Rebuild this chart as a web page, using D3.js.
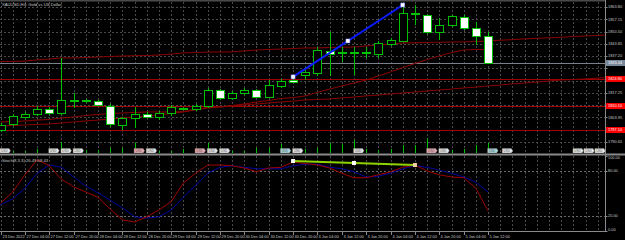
<!DOCTYPE html>
<html><head><meta charset="utf-8">
<script src="https://cdn.jsdelivr.net/npm/d3@7"></script>
<style>
html,body{margin:0;padding:0;background:#000;}
svg{display:block;font-family:"Liberation Sans",Arial,sans-serif;}
</style></head><body>
<svg id="chart" width="625" height="240"></svg>
<script>
// --- data (XAUUSD H4) ---
const opens  = [1797.1,1800.4,1804.2,1805.8,1808.5,1806.3,1812.8,1813.4,1812.8,1810.1,1799.8,1803.6,1805.8,1804.2,1806.3,1809.0,1808.5,1810.1,1818.8,1814.5,1817.2,1818.8,1815.0,1821.0,1824.0,1826.9,1828.0,1840.0,1839.1,1839.1,1839.1,1838.3,1843.7,1845.4,1859.7,1859.5,1850.3,1854.0,1858.4,1852.4,1848.1];
const highs  = [1800.9,1805.8,1806.9,1810.1,1809.6,1836.2,1817.2,1813.9,1813.4,1811.2,1804.2,1809.6,1806.9,1807.4,1810.7,1809.6,1811.2,1819.9,1819.3,1818.3,1819.9,1819.3,1824.2,1824.8,1825.9,1831.3,1842.1,1850.3,1842.1,1842.1,1842.1,1845.4,1847.0,1864.9,1864.9,1860.0,1857.8,1859.5,1859.5,1855.7,1850.3];
const lows   = [1796.0,1799.3,1803.1,1804.7,1805.3,1805.3,1809.0,1811.8,1810.1,1798.7,1797.1,1798.2,1803.6,1802.5,1804.7,1808.0,1807.4,1809.0,1813.4,1813.4,1816.1,1814.5,1814.5,1819.9,1822.6,1824.2,1826.4,1826.4,1834.0,1826.9,1836.2,1836.2,1842.7,1844.8,1854.0,1849.2,1845.9,1853.0,1851.3,1843.2,1832.9];
const closes = [1799.8,1804.7,1805.8,1808.5,1806.3,1813.4,1813.6,1812.6,1810.7,1800.4,1803.6,1805.8,1804.2,1806.3,1809.6,1808.2,1810.1,1818.8,1814.5,1817.2,1818.8,1815.0,1821.5,1823.7,1823.1,1828.6,1840.5,1838.3,1839.6,1839.6,1839.6,1844.3,1845.9,1860.6,1860.3,1850.3,1854.0,1858.9,1852.4,1848.1,1833.4];
const volumes = [7400,5100,4900,10200,7300,27600,9800,7600,7200,12700,12300,25100,7700,5200,4800,10300,7400,24800,7600,5000,5300,12400,12800,22600,7300,9900,12600,25300,22400,32700,10100,7500,9700,20200,19800,37400,7400,7700,10200,19700,25200];

// moving averages (A and C run past the last bar, B stops at it)
const maA = [1834.2,1834.3,1834.5,1835.1,1835.6,1836.2,1836.2,1836.4,1836.7,1837.0,1837.2,1837.4,1837.5,1837.8,1838.3,1838.9,1839.1,1839.4,1839.4,1839.5,1840.0,1840.5,1840.8,1841.0,1841.3,1841.6,1841.6,1841.9,1842.0,1842.1,1842.7,1843.2,1843.7,1844.3,1844.4,1844.6,1844.7,1844.8,1844.9,1845.1,1845.4,1845.8,1846.1,1846.5,1846.8,1847.1,1847.4,1847.8,1848.1,1848.4,1848.7];
const maB = [1801.5,1801.7,1802.0,1802.5,1802.8,1803.6,1804.2,1805.0,1805.5,1806.1,1806.3,1806.6,1806.9,1806.9,1806.9,1807.1,1808.5,1809.3,1809.6,1810.4,1811.2,1812.3,1813.1,1814.2,1814.7,1815.6,1817.5,1819.3,1821.0,1822.6,1824.2,1826.4,1828.6,1831.0,1833.2,1835.3,1837.2,1839.1,1840.5,1840.8,1840.5];
const maC = [1799.3,1799.6,1799.8,1800.1,1800.4,1800.9,1801.5,1802.0,1802.5,1803.1,1803.6,1804.2,1804.7,1805.3,1806.1,1806.9,1808.0,1809.0,1809.6,1810.1,1810.7,1811.2,1811.8,1812.3,1812.8,1813.4,1813.7,1813.9,1814.5,1815.0,1815.6,1816.1,1816.6,1817.2,1817.7,1818.3,1818.8,1819.3,1819.9,1820.4,1821.0,1821.5,1822.1,1822.6,1823.1,1823.7,1824.2,1824.5,1824.8,1825.3,1825.6];

const levels = [1824.80, 1810.10, 1797.10];
const bidPrice = 1833.44;
const priceTicks = [1863.80,1857.15,1850.50,1843.85,1837.20,1830.55,1823.90,1817.25,1810.60,1803.95,1797.30,1790.65];

// trendline on price: bar index / price
const trendIdx = [24, 33];
const trendPrice = [1825.9, 1864.9];

// stochastic
const stochK = [37,52,75,95,87,69,59,52,45,29,15,12,19,28,39,64,77,88,88,87,84,79,84,85,92,90,88,84,77,71,71,75,79,85,88,80,75,72,71,57,26.49];
const stochD = [35,43,57,77,88,85,72,60,51,41,31,19,17,19,28,45,61,77,85,87,85,83,83,83,87,89,89,85,83,79,72,73,77,83,87,85,81,77,72,65,52];
const stochLevels = [80, 20];
const stochTicks = [100, 80, 20, 0];
const stochTrendIdx = [24, 34];
const stochTrendVal = [93.3, 88.0];

const timeLabels = ["23 Dec 2022","27 Dec 04:00","27 Dec 12:00","27 Dec 20:00","28 Dec 04:00","28 Dec 12:00","28 Dec 20:00","29 Dec 04:00","29 Dec 12:00","29 Dec 20:00","30 Dec 04:00","30 Dec 12:00","30 Dec 20:00","3 Jan 04:00","3 Jan 12:00","3 Jan 20:00","4 Jan 04:00","4 Jan 12:00","4 Jan 20:00","5 Jan 04:00","5 Jan 12:00"];

// calendar events along the bottom of the price pane
const eventIdx  = [0,4,5,6,11,12,16,17,18,23,24,29,35,36,40,41.2,47,47.9,48.8];
const eventKind = ["w","w","w","w","p","w","p","w","w","t","w","w","p","w","t","w","w","w","w"];

// --- layout ---
const W = 625, H = 240;
const plotR = 605;
const mainTop = 2, mainBot = 153;
const subTop = 156, subBot = 231;

const svg = d3.select('#chart');
svg.append('rect').attr('width', W).attr('height', H).attr('fill', '#000');

const x = d3.scaleLinear().domain([0, 49]).range([0.5, 597.81]);
const y = d3.scaleLinear().domain([1784.64, 1866.52]).range([mainBot, mainTop]);
const yS = d3.scaleLinear().domain([0, 100]).range([subBot, subTop]);
const yV = d3.scaleLinear().domain([0, 40000]).range([mainBot, mainBot - 16]);

const gridCol = '#4a4a4a';
const green = '#00c000';
const fontSm = 3.9;

// clip to plot area
const defs = svg.append('defs');
defs.append('clipPath').attr('id', 'clipMain').append('rect')
	.attr('x', 0).attr('y', mainTop).attr('width', plotR).attr('height', mainBot - mainTop);
defs.append('clipPath').attr('id', 'clipSub').append('rect')
	.attr('x', 0).attr('y', subTop).attr('width', plotR).attr('height', subBot - subTop);

const gridIdx = d3.range(0, 50);

// grid main
const gm = svg.append('g').attr('shape-rendering', 'crispEdges');
gm.selectAll('line.v').data(gridIdx).join('line')
	.attr('x1', d => Math.round(x(d)) + 0.5).attr('x2', d => Math.round(x(d)) + 0.5)
	.attr('y1', mainTop).attr('y2', mainBot)
	.attr('stroke', gridCol).attr('stroke-dasharray', '2,2');
gm.selectAll('line.h').data(priceTicks).join('line')
	.attr('x1', 0).attr('x2', plotR)
	.attr('y1', d => Math.round(y(d)) + 0.5).attr('y2', d => Math.round(y(d)) + 0.5)
	.attr('stroke', gridCol).attr('stroke-dasharray', '2,2');

// grid sub
const gs = svg.append('g').attr('shape-rendering', 'crispEdges');
gs.selectAll('line.v').data(gridIdx).join('line')
	.attr('x1', d => Math.round(x(d)) + 0.5).attr('x2', d => Math.round(x(d)) + 0.5)
	.attr('y1', subTop).attr('y2', subBot)
	.attr('stroke', gridCol).attr('stroke-dasharray', '2,2');
gs.selectAll('line.h').data(stochLevels).join('line')
	.attr('x1', 0).attr('x2', plotR)
	.attr('y1', d => Math.round(yS(d)) + 0.5).attr('y2', d => Math.round(yS(d)) + 0.5)
	.attr('stroke', '#6a6a6a').attr('stroke-dasharray', '2,2');

const main = svg.append('g').attr('clip-path', 'url(#clipMain)');

// horizontal levels
main.selectAll('line.lvl').data(levels).join('line')
	.attr('x1', 0).attr('x2', plotR)
	.attr('y1', d => Math.round(y(d)) + 0.5).attr('y2', d => Math.round(y(d)) + 0.5)
	.attr('stroke', '#a00000').attr('shape-rendering', 'crispEdges');

// bid line
main.append('line')
	.attr('x1', 0).attr('x2', plotR)
	.attr('y1', Math.round(y(bidPrice)) + 0.5).attr('y2', Math.round(y(bidPrice)) + 0.5)
	.attr('stroke', '#7a8088').attr('shape-rendering', 'crispEdges');

// moving averages
const maLine = d3.line().x((d, i) => x(i)).y(d => y(d));
[maA, maB, maC].forEach(arr => {
	main.append('path').datum(arr).attr('d', maLine)
		.attr('fill', 'none').attr('stroke', '#8c0000').attr('stroke-width', 1);
});

// volumes
main.selectAll('line.vol').data(volumes).join('line')
	.attr('x1', (d, i) => Math.round(x(i)) + 0.5).attr('x2', (d, i) => Math.round(x(i)) + 0.5)
	.attr('y1', yV(0)).attr('y2', d => yV(d))
	.attr('stroke', green).attr('shape-rendering', 'crispEdges');

// candles
const bars = opens.map((o, i) => ({ i, o, h: highs[i], l: lows[i], c: closes[i] }));
const cg = main.append('g').attr('shape-rendering', 'crispEdges');
cg.selectAll('line.wick').data(bars).join('line')
	.attr('x1', d => Math.round(x(d.i)) + 0.5).attr('x2', d => Math.round(x(d.i)) + 0.5)
	.attr('y1', d => y(d.h)).attr('y2', d => y(d.l))
	.attr('stroke', green);
cg.selectAll('rect.body').data(bars).join('rect')
	.attr('x', d => Math.round(x(d.i)) - 3.5)
	.attr('width', 8)
	.attr('y', d => Math.round(y(Math.max(d.o, d.c))) + 0.5)
	.attr('height', d => Math.max(1, Math.round(y(Math.min(d.o, d.c)) - y(Math.max(d.o, d.c)))))
	.attr('fill', d => d.c >= d.o ? '#000' : '#fff')
	.attr('stroke', green);

// trendline
const tl = trendIdx.map((d, k) => ({ i: d, p: trendPrice[k] }));
const tlMid = { i: (trendIdx[0] + trendIdx[1]) / 2, p: (trendPrice[0] + trendPrice[1]) / 2 };
main.append('line')
	.attr('x1', x(tl[0].i)).attr('y1', y(tl[0].p))
	.attr('x2', x(tl[1].i)).attr('y2', y(tl[1].p))
	.attr('stroke', '#0a1cff').attr('stroke-width', 2);
main.selectAll('rect.anchor').data([tl[0], tlMid, tl[1]]).join('rect')
	.attr('x', d => x(d.i) - 2).attr('y', d => y(d.p) - 2)
	.attr('width', 4).attr('height', 4)
	.attr('fill', '#fff').attr('stroke', '#8080ff').attr('stroke-width', 0.5);

// calendar flags
const flagFill = { w: '#e6e6e6', p: '#e8a8b0', t: '#a8d8dc' };
const fg = main.append('g');
eventIdx.forEach((d, k) => {
	const fx = x(d) - 0.5, fy = 148.5;
	fg.append('path')
		.attr('d', `M${fx},${fy}h9l1.5,2.2l-1.5,2.2h-9z`)
		.attr('fill', flagFill[eventKind[k]]).attr('stroke', '#888').attr('stroke-width', 0.4);
	fg.append('text').attr('x', fx + 4.5).attr('y', fy + 3.4)
		.attr('text-anchor', 'middle').attr('font-size', 3)
		.attr('fill', '#555').text('USD');
});

// pane borders
svg.append('rect').attr('x', 0).attr('y', 0).attr('width', plotR).attr('height', 1.5).attr('fill', '#4a4a4a');
svg.append('rect').attr('x', 0).attr('y', 153.5).attr('width', W).attr('height', 2).attr('fill', '#8a8a8a');
svg.append('line').attr('x1', plotR + 0.5).attr('x2', plotR + 0.5).attr('y1', 0).attr('y2', subBot + 1)
	.attr('stroke', '#8a8a8a').attr('shape-rendering', 'crispEdges');
svg.append('line').attr('x1', 0).attr('x2', plotR + 1).attr('y1', subBot + 0.5).attr('y2', subBot + 0.5)
	.attr('stroke', '#8a8a8a').attr('shape-rendering', 'crispEdges');

// stochastic
const sub = svg.append('g').attr('clip-path', 'url(#clipSub)');
const sLine = d3.line().x((d, i) => x(i)).y(d => yS(d));
sub.append('path').datum(stochD).attr('d', sLine).attr('fill', 'none').attr('stroke', '#0000a0');
sub.append('path').datum(stochK).attr('d', sLine).attr('fill', 'none').attr('stroke', '#a00000');
const stl = stochTrendIdx.map((d, k) => ({ i: d, v: stochTrendVal[k] }));
const stlMid = { i: (stochTrendIdx[0] + stochTrendIdx[1]) / 2, v: (stochTrendVal[0] + stochTrendVal[1]) / 2 };
sub.append('line')
	.attr('x1', x(stl[0].i)).attr('y1', yS(stl[0].v))
	.attr('x2', x(stl[1].i)).attr('y2', yS(stl[1].v))
	.attr('stroke', '#8fd400').attr('stroke-width', 2);
sub.selectAll('rect.anchor').data([stl[0], stlMid, stl[1]]).join('rect')
	.attr('x', d => x(d.i) - 2).attr('y', d => yS(d.v) - 2)
	.attr('width', 4).attr('height', 4)
	.attr('fill', (d, k) => k === 2 ? '#f0d0a0' : '#fff');

// titles
svg.append('text').attr('x', 2).attr('y', 6).attr('font-size', 4.2).attr('fill', '#c8c8c8')
	.text('XAUUSD,H4:  Gold vs US Dollar');
svg.append('text').attr('x', 2).attr('y', 161.5).attr('font-size', 4.2).attr('fill', '#c8c8c8')
	.text(`Stoch(8,3,3) ${stochK[stochK.length - 1].toFixed(2)} 58.43`);

// price axis (tick labels under a coloured box are hidden, as in the terminal)
const ax = svg.append('g').attr('font-size', fontSm).attr('fill', '#c8c8c8');
const boxed = levels.concat([bidPrice]);
priceTicks.forEach(p => {
	ax.append('line').attr('x1', plotR).attr('x2', plotR + 2.5)
		.attr('y1', Math.round(y(p)) + 0.5).attr('y2', Math.round(y(p)) + 0.5).attr('stroke', '#8a8a8a');
	if (boxed.some(b => Math.abs(y(b) - y(p)) < 5.5)) return;
	ax.append('text').attr('x', plotR + 3).attr('y', y(p) + 1.4).text(p.toFixed(2));
});
// level labels
levels.forEach(p => {
	ax.append('rect').attr('x', plotR + 1).attr('y', y(p) - 3).attr('width', W - plotR - 1).attr('height', 6).attr('fill', '#ff0000');
	ax.append('text').attr('x', plotR + 3).attr('y', y(p) + 1.4).attr('fill', '#fff').text(p.toFixed(2));
});
// bid label
ax.append('rect').attr('x', plotR + 1).attr('y', y(bidPrice) - 3).attr('width', W - plotR - 1).attr('height', 6).attr('fill', '#76879a');
ax.append('text').attr('x', plotR + 3).attr('y', y(bidPrice) + 1.4).attr('fill', '#fff').text(bidPrice.toFixed(2));

// stoch axis
stochTicks.forEach(v => {
	const ty = Math.min(Math.max(yS(v), subTop + 1.5), subBot - 1);
	ax.append('line').attr('x1', plotR).attr('x2', plotR + 2.5)
		.attr('y1', Math.round(yS(v)) + 0.5).attr('y2', Math.round(yS(v)) + 0.5).attr('stroke', '#8a8a8a');
	ax.append('text').attr('x', plotR + 3).attr('y', ty + 1.4).text(v.toFixed(2));
});

// time axis
const tAx = svg.append('g').attr('font-size', fontSm).attr('fill', '#c8c8c8');
timeLabels.forEach((t, k) => {
	const tx = Math.round(x(k * 2)) + 0.5;
	tAx.append('line').attr('x1', tx).attr('x2', tx).attr('y1', subBot).attr('y2', subBot + 3.5)
		.attr('stroke', '#8a8a8a').attr('shape-rendering', 'crispEdges');
	tAx.append('text').attr('x', tx + 1).attr('y', 237.5).text(t);
});
</script>
</body></html>
